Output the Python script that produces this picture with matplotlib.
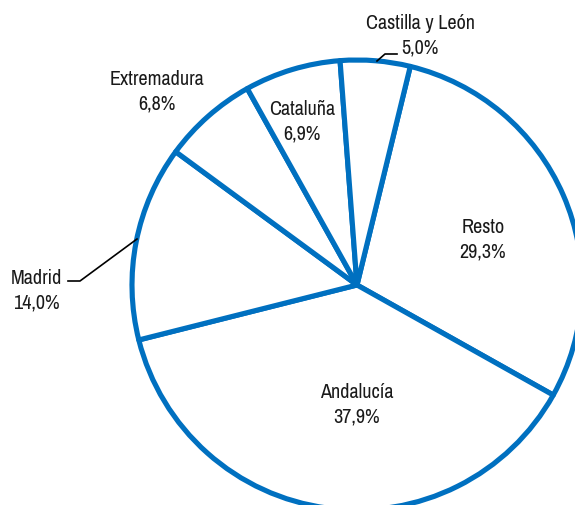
import matplotlib
matplotlib.use("Agg")
import matplotlib.pyplot as plt
from matplotlib import font_manager as fm

labels = ["Resto", "Andalucía", "Madrid", "Extremadura", "Cataluña", "Castilla y León"]
values = [29.3, 37.9, 14.0, 6.8, 6.9, 5.0]
pct_text = ["29,3%", "37,9%", "14,0%", "6,8%", "6,9%", "5,0%"]

# pick a condensed/narrow font if one is available
cond = None
for f in fm.fontManager.ttflist:
    n = f.name
    if ("Narrow" in n or "Condensed" in n) and f.style == "normal" and f.weight in (400, "normal", "regular"):
        cond = n
        break
cond_stretch = None
if cond is None:
    for f in fm.fontManager.ttflist:
        if f.stretch in ("condensed", "semi-condensed", 500 - 125) and f.style == "normal" and f.weight in (400, "normal", "regular"):
            cond = f.name
            cond_stretch = f.stretch
            break

W, H = 575, 506
fig = plt.figure(figsize=(W / 100, H / 100), dpi=100)
ax = fig.add_axes([0, 0, 1, 1])

cx, cy, R = 357, H - 286, 225
blue = "#0070C0"
ax.pie(values, startangle=76.3, counterclock=False, center=(cx, cy), radius=R,
       colors=["white"] * len(values),
       wedgeprops=dict(edgecolor=blue, linewidth=3.7, joinstyle="round"),
       frame=True)
ax.set_xlim(0, W)
ax.set_ylim(0, H)
ax.set_aspect("equal")
ax.axis("off")

fam = [cond, "DejaVu Sans"] if cond else ["DejaVu Sans"]
fs = 14.5 if cond else 12
pos = {
    "Resto": (483, 240),
    "Andalucía": (357, 405),
    "Madrid": (36, 291),
    "Extremadura": (157, 92),
    "Cataluña": (302, 122),
    "Castilla y León": (420, 36),
}
for lab, p in zip(labels, pct_text):
    x, y = pos[lab]
    kw = {}
    if cond_stretch is not None:
        kw["fontstretch"] = cond_stretch
    ax.text(x, H - y, f"{lab}\n{p}", ha="center", va="center", fontsize=fs,
            family=fam, linespacing=1.38, color="#1a1a1a", **kw)

ax.plot([377, 385, 397], [H - 62, H - 55, H - 55], color="black", lw=1.2)
ax.plot([68, 80, 137], [H - 282, H - 282, H - 240], color="black", lw=1.2)

fig.savefig("out.png", dpi=100)
